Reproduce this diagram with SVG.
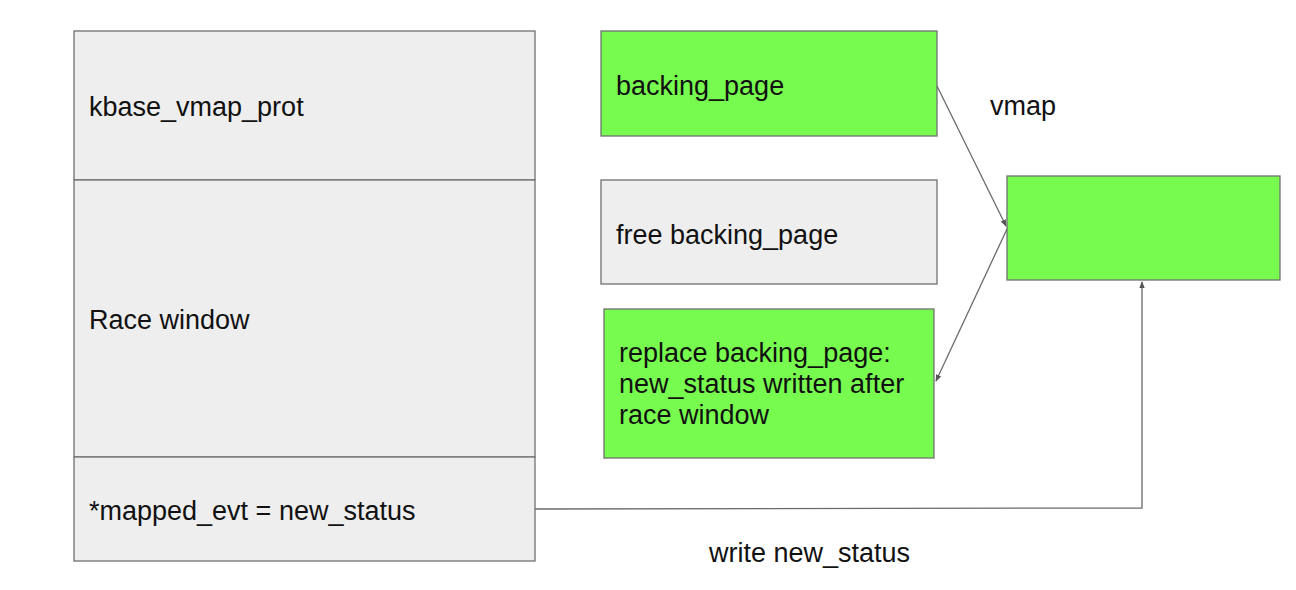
<svg xmlns="http://www.w3.org/2000/svg" width="1296" height="590" viewBox="0 0 1296 590">
  <style>
    .gray { fill: #eeeeee; stroke: #707070; stroke-width: 1.3; }
    .green { fill: #77fb4f; stroke: #707070; stroke-width: 1.3; }
    .label { font-family: "Liberation Sans", Arial, sans-serif; font-size: 27px; fill: #111111; }
    .edge { fill: none; stroke: #6b6b6b; stroke-width: 1.3; }
  </style>
  <defs>
    <marker id="arrow" viewBox="0 0 10 10" refX="9" refY="5" markerWidth="7" markerHeight="7" orient="auto-start-reverse" markerUnits="userSpaceOnUse">
      <path d="M0,1 L10,5 L0,9 z" fill="#555555"/>
    </marker>
  </defs>
  <rect width="1296" height="590" fill="#ffffff"/>

  <!-- call stack column -->
  <g id="kbase_vmap_prot">
    <rect class="gray" x="74" y="31" width="461" height="149"/>
    <text class="label" x="89" y="116">kbase_vmap_prot</text>
  </g>
  <g id="race_window">
    <rect class="gray" x="74" y="180" width="461" height="277"/>
    <text class="label" x="89" y="329">Race window</text>
  </g>
  <g id="mapped_evt">
    <rect class="gray" x="74" y="457" width="461" height="104"/>
    <text class="label" x="89" y="520">*mapped_evt = new_status</text>
  </g>

  <!-- page states -->
  <g id="backing_page">
    <rect class="green" x="601" y="31" width="336" height="105"/>
    <text class="label" x="616" y="95">backing_page</text>
  </g>
  <g id="free_backing_page">
    <rect class="gray" x="601" y="180" width="336" height="104"/>
    <text class="label" x="616" y="244">free backing_page</text>
  </g>
  <g id="replace_backing_page">
    <rect class="green" x="604" y="309" width="330" height="149"/>
    <text class="label" x="619" y="362">replace backing_page:</text>
    <text class="label" x="619" y="393">new_status written after</text>
    <text class="label" x="619" y="424">race window</text>
  </g>

  <!-- kernel mapping -->
  <g id="vmap_target">
    <rect class="green" x="1007" y="176" width="273" height="104"/>
  </g>

  <g id="connectors">
    <line class="edge" x1="937" y1="86" x2="1006" y2="226" marker-end="url(#arrow)"/>
    <line class="edge" x1="1007" y1="229" x2="936" y2="381" marker-end="url(#arrow)"/>
    <polyline class="edge" points="535,509 1142,508 1142,282" marker-end="url(#arrow)"/>
  </g>

  <g id="edge_labels">
    <text class="label" x="990" y="115">vmap</text>
    <text class="label" x="709" y="562">write new_status</text>
  </g>
</svg>
